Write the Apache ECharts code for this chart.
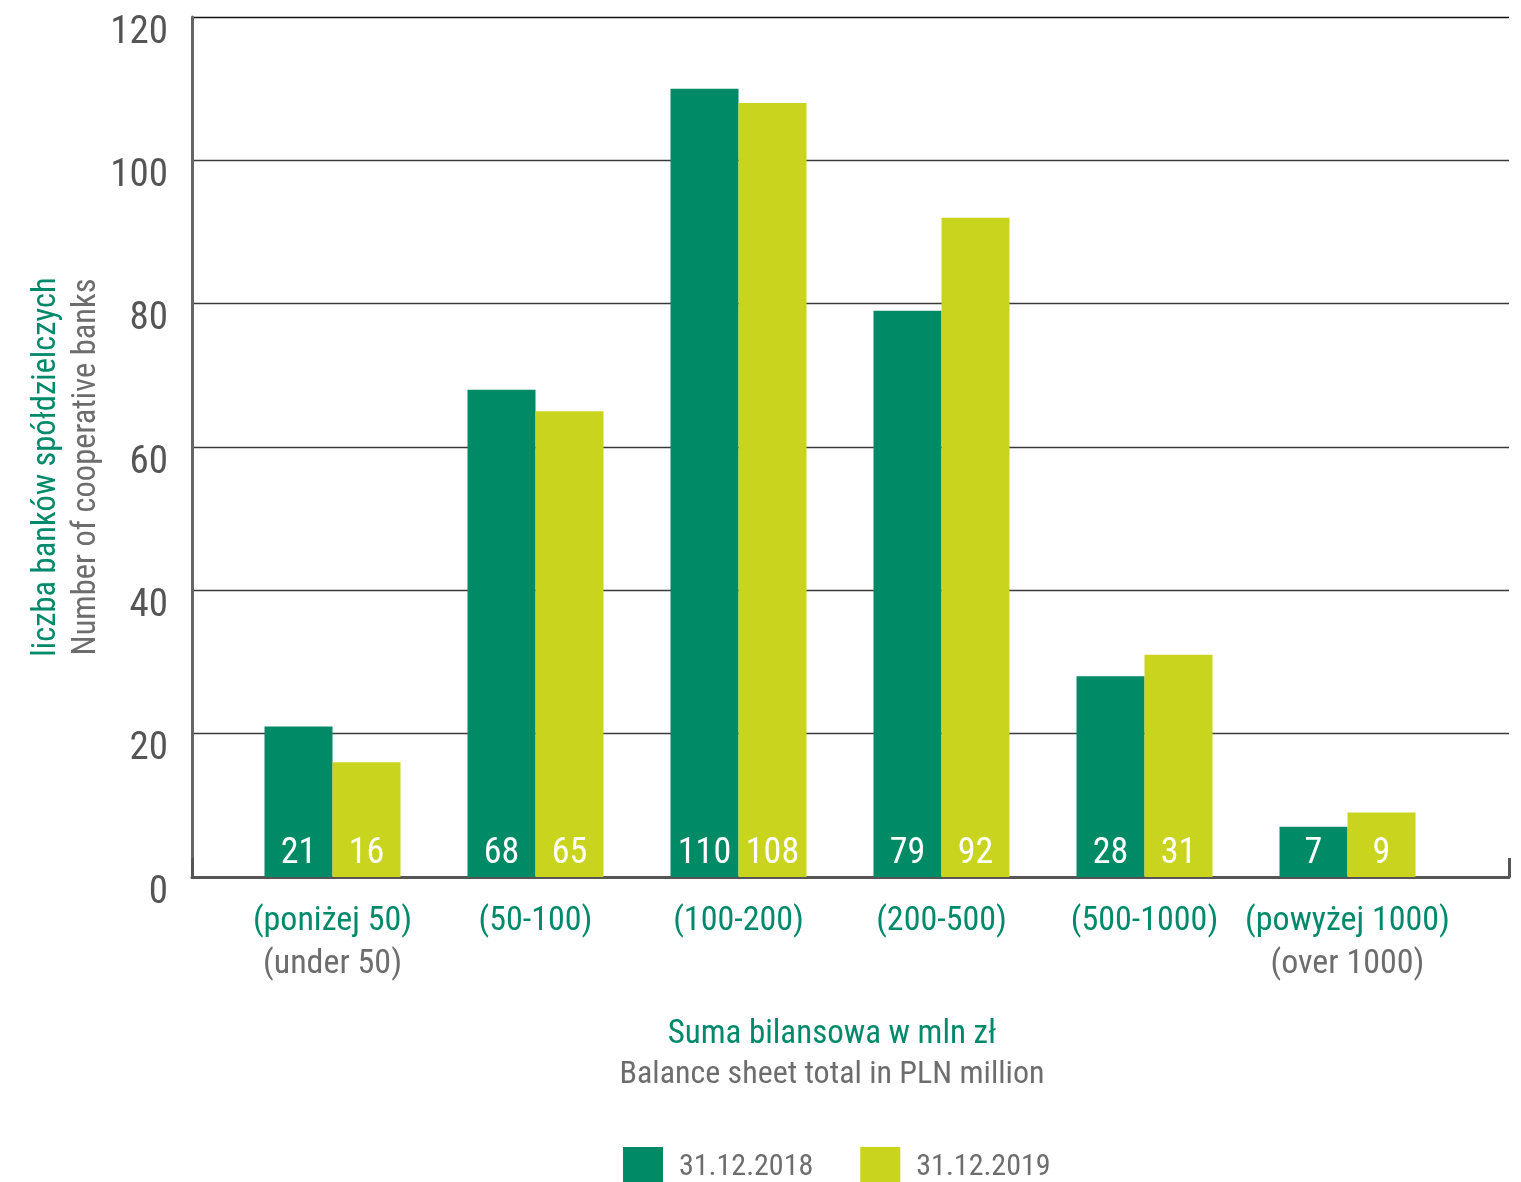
<!DOCTYPE html>
<html>
<head>
<meta charset="utf-8">
<script src="https://cdn.jsdelivr.net/npm/echarts@6/dist/echarts.min.js"></script>
<style>
  html, body { margin: 0; padding: 0; background: #fff; }
  #chart { width: 1521px; height: 1182px; }
</style>
</head>
<body>
<div id="chart"></div>
<script>
const categoriesPl = ['(poniżej 50)', '(50-100)', '(100-200)', '(200-500)', '(500-1000)', '(powyżej 1000)'];
const categoriesEn = ['(under 50)', '', '', '', '', '(over 1000)'];
const seriesNames = ['31.12.2018', '31.12.2019'];
const values2018 = [21, 68, 110, 79, 28, 7];
const values2019 = [16, 65, 108, 92, 31, 9];
const yMin = 0, yMax = 120, yStep = 20;
const yTitlePl = 'liczba banków spółdzielczych';
const yTitleEn = 'Number of cooperative banks';
const xTitlePl = 'Suma bilansowa w mln zł';
const xTitleEn = 'Balance sheet total in PLN million';

const FONT = "'Liberation Sans Narrow', 'Roboto Condensed', Roboto, sans-serif";
const GREEN = '#008A66';
const YELLOW = '#C9D41F';
const GREENTXT = '#00896A';
const GREY = '#6d6d6d';

const chart = echarts.init(document.getElementById('chart'));
chart.setOption({
  animation: false,
  textStyle: { fontFamily: FONT },
  grid: [
    { left: 192, right: 12, top: 17, bottom: 305 },
    { left: 231, right: 72, top: 17, bottom: 305 }
  ],
  xAxis: [
    {
      gridIndex: 0, type: 'value', min: 0, max: 1, interval: 1,
      axisLabel: { show: false }, splitLine: { show: false },
      axisLine: { show: true, lineStyle: { color: '#555', width: 3 } },
      axisTick: { show: true, inside: true, length: 19, lineStyle: { color: '#555', width: 3 } }
    },
    {
      gridIndex: 1, type: 'category', data: categoriesPl,
      axisLine: { show: false }, axisTick: { show: false },
      axisLabel: {
        margin: 23,
        formatter: function (value, idx) {
          const en = categoriesEn[idx];
          return '{pl|' + value + '}' + (en ? '\n{en|' + en + '}' : '');
        },
        rich: {
          pl: { fontFamily: FONT, fontSize: 34, color: GREENTXT, lineHeight: 43 },
          en: { fontFamily: FONT, fontSize: 34, color: GREY, lineHeight: 43 }
        }
      }
    }
  ],
  yAxis: [
    {
      gridIndex: 0, type: 'value', min: yMin, max: yMax, interval: yStep,
      axisLine: { show: true, lineStyle: { color: '#666', width: 3 } },
      axisTick: { show: false },
      axisLabel: { fontFamily: FONT, fontSize: 39, color: '#555', margin: 24, verticalAlign: 'top', lineHeight: 32 },
      splitLine: { show: true, lineStyle: { color: ['#000', '#3a3a3a', '#3a3a3a', '#3a3a3a', '#3a3a3a', '#3a3a3a', '#111'], width: 1.3 } }
    },
    {
      gridIndex: 1, type: 'value', min: yMin, max: yMax, interval: yStep, show: false,
      splitLine: { show: false }
    }
  ],
  legend: {
    data: seriesNames,
    left: 623, top: 1147, padding: 0,
    icon: 'rect', itemWidth: 40, itemHeight: 40, itemGap: 47,
    textStyle: { fontFamily: FONT, fontSize: 30, color: GREY, padding: [0, 0, 0, 11] }
  },
  series: [
    {
      name: seriesNames[0], type: 'bar', xAxisIndex: 1, yAxisIndex: 1,
      data: values2018, barWidth: 68, barGap: '0%',
      itemStyle: { color: GREEN },
      label: { show: true, position: 'insideBottom', distance: 5, color: '#fff', fontFamily: FONT, fontSize: 36 }
    },
    {
      name: seriesNames[1], type: 'bar', xAxisIndex: 1, yAxisIndex: 1,
      data: values2019, barWidth: 68, barGap: '0%',
      itemStyle: { color: YELLOW },
      label: { show: true, position: 'insideBottom', distance: 5, color: '#fff', fontFamily: FONT, fontSize: 36 }
    }
  ],
  graphic: [
    { type: 'text', x: 47, y: 467, rotation: Math.PI / 2,
      style: { text: yTitlePl, fill: GREENTXT, font: '32.5px ' + FONT, textAlign: 'center', textVerticalAlign: 'middle' } },
    { type: 'text', x: 87, y: 467, rotation: Math.PI / 2,
      style: { text: yTitleEn, fill: GREY, font: '32.5px ' + FONT, textAlign: 'center', textVerticalAlign: 'middle' } },
    { type: 'text', x: 832, y: 1035,
      style: { text: xTitlePl, fill: GREENTXT, font: '33px ' + FONT, textAlign: 'center', textVerticalAlign: 'middle' } },
    { type: 'text', x: 832, y: 1075,
      style: { text: xTitleEn, fill: GREY, font: '32px ' + FONT, textAlign: 'center', textVerticalAlign: 'middle' } }
  ]
});
</script>
</body>
</html>
